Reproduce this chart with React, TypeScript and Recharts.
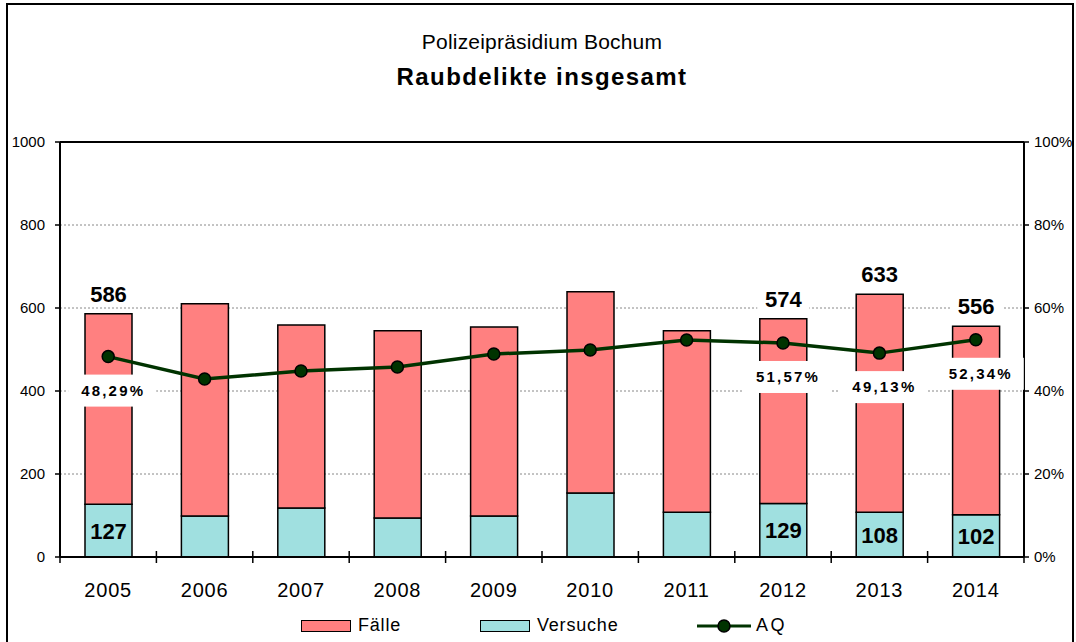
import React from 'react';
import {
  ComposedChart,
  Bar,
  Line,
  XAxis,
  YAxis,
  CartesianGrid,
  ReferenceLine,
  LabelList,
  Legend,
} from 'recharts';

const years = ['2005', '2006', '2007', '2008', '2009', '2010', '2011', '2012', '2013', '2014'];
const faelle = [586, 610, 559, 545, 554, 639, 545, 574, 633, 556];
const versuche = [127, 99, 118, 94, 99, 154, 108, 129, 108, 102];
const aq = [0.4829, 0.429, 0.448, 0.458, 0.489, 0.499, 0.523, 0.5157, 0.4913, 0.5234];
const faelleLabels = ['586', null, null, null, null, null, null, '574', '633', '556'];
const versucheLabels = ['127', null, null, null, null, null, null, '129', '108', '102'];
const aqLabels = ['48,29%', null, null, null, null, null, null, '51,57%', '49,13%', '52,34%'];
const leftTicks = [0, 200, 400, 600, 800, 1000];
const rightTicks = [0, 0.2, 0.4, 0.6, 0.8, 1];

const data = years.map((year, i) => ({
  year,
  versuche: versuche[i],
  rest: faelle[i] - versuche[i],
  aq: aq[i],
  faelleLabel: faelleLabels[i],
  versucheLabel: versucheLabels[i],
  aqLabel: aqLabels[i],
}));

const FONT = "'Liberation Sans', Arial, sans-serif";
const RED = '#FF8080';
const CYAN = '#A0E0E0';
const GREEN = '#003300';
const HALF_BAND = 48.2;

const FaelleLabel = (props: any) => {
  const { x, y, width, value } = props;
  if (value == null) return null;
  const cx = Number(x) + Number(width) / 2;
  const base = Number(y) - 12;
  return (
    <g>
      <rect x={cx - 26} y={base - 22} width={52} height={26} fill="#fff" />
      <text x={cx} y={base} textAnchor="middle" fontSize={22} fontWeight="bold" fontFamily={FONT} fill="#000">
        {value}
      </text>
    </g>
  );
};

const VersucheLabel = (props: any) => {
  const { x, y, width, height, value } = props;
  if (value == null) return null;
  const cx = Number(x) + Number(width) / 2;
  const cy = Number(y) + Number(height) / 2;
  return (
    <text x={cx} y={cy + 8} textAnchor="middle" fontSize={22} fontWeight="bold" fontFamily={FONT} fill="#000">
      {value}
    </text>
  );
};

const AqLabel = (props: any) => {
  const { x, y, value } = props;
  if (value == null) return null;
  const cx = Number(x) + 4;
  const cy = Number(y) + 34;
  return (
    <g>
      <rect x={cx - 44} y={cy - 16} width={88} height={32} fill="#fff" />
      <text x={cx + 1} y={cy + 5} textAnchor="middle" fontSize={15} fontWeight="bold" fontFamily={FONT} fill="#000" letterSpacing={2.2}>
        {value}
      </text>
    </g>
  );
};

const YearTick = (props: any) => {
  const { x, y, payload, index } = props;
  const last = index === years.length - 1;
  return (
    <g>
      <line x1={x - HALF_BAND} x2={x - HALF_BAND} y1={y - 6} y2={y + 6} stroke="#000" strokeWidth={1.5} />
      {last && <line x1={x + HALF_BAND} x2={x + HALF_BAND} y1={y - 6} y2={y + 6} stroke="#000" strokeWidth={1.5} />}
      <text x={x} y={y + 40} textAnchor="middle" fontSize={20} fontFamily={FONT} fill="#000" letterSpacing={0.8}>
        {payload.value}
      </text>
    </g>
  );
};

const renderLegend = () => (
  <div style={{ position: 'relative', width: 1076, height: 30, fontFamily: FONT, fontSize: 18, color: '#000' }}>
    <div style={{ position: 'absolute', left: 301, top: 9, width: 48, height: 10, background: RED, border: '1.5px solid #000' }} />
    <span style={{ position: 'absolute', left: 358, top: 4, letterSpacing: 0.8 }}>Fälle</span>
    <div style={{ position: 'absolute', left: 480, top: 9, width: 48, height: 10, background: CYAN, border: '1.5px solid #000' }} />
    <span style={{ position: 'absolute', left: 537, top: 4, letterSpacing: 0.8 }}>Versuche</span>
    <svg style={{ position: 'absolute', left: 695, top: 5 }} width={58} height={20}>
      <line x1={2} x2={56} y1={10} y2={10} stroke={GREEN} strokeWidth={3} />
      <circle cx={29} cy={10} r={6} fill={GREEN} stroke="#000" strokeWidth={1.5} />
    </svg>
    <span style={{ position: 'absolute', left: 756, top: 4, letterSpacing: 2.5 }}>AQ</span>
  </div>
);

export default function App() {
  return (
    <div style={{ position: 'absolute', left: 0, top: 0, width: 1076, height: 642, overflow: 'hidden', background: '#fff', fontFamily: FONT }}>
      <div style={{ position: 'absolute', left: 6, top: 3, width: 1064, height: 700, border: '2px solid #000' }} />
      <div style={{ position: 'absolute', left: 0, top: 30, width: 1084, textAlign: 'center', fontSize: 21, letterSpacing: 0.2 }}>
        Polizeipräsidium Bochum
      </div>
      <div style={{ position: 'absolute', left: 0, top: 63, width: 1084, textAlign: 'center', fontSize: 24, fontWeight: 'bold', letterSpacing: 1.4 }}>
        Raubdelikte insgesamt
      </div>
      <div style={{ position: 'absolute', left: 0, top: 0 }}>
        <ComposedChart
          width={1076}
          height={642}
          data={data}
          margin={{ top: 142, right: 0, bottom: 10, left: 8 }}
          barCategoryGap={0}
        >
          <CartesianGrid horizontal vertical={false} stroke="#888" strokeDasharray="2 2" yAxisId="left" />
          <XAxis
            dataKey="year"
            tick={<YearTick />}
            tickLine={false}
            tickSize={0}
            tickMargin={0}
            height={45}
            axisLine={{ stroke: '#000', strokeWidth: 2 }}
            interval={0}
          />
          <YAxis
            yAxisId="left"
            domain={[0, 1000]}
            ticks={leftTicks}
            width={52}
            tickSize={5}
            tickMargin={10}
            tick={{ fontSize: 15, fill: '#000', fontFamily: FONT }}
            tickLine={{ stroke: '#000', strokeWidth: 1.5 }}
            axisLine={{ stroke: '#000', strokeWidth: 2 }}
          />
          <YAxis
            yAxisId="right"
            orientation="right"
            domain={[0, 1]}
            ticks={rightTicks}
            width={52}
            tickSize={5}
            tickMargin={5}
            tickFormatter={(v: number) => `${Math.round(v * 100)}%`}
            tick={{ fontSize: 15, fill: '#000', fontFamily: FONT, textAnchor: 'start' }}
            tickLine={{ stroke: '#000', strokeWidth: 1.5 }}
            axisLine={{ stroke: '#000', strokeWidth: 2 }}
          />
          <ReferenceLine yAxisId="left" y={1000} stroke="#000" strokeWidth={2} />
          <Bar yAxisId="left" dataKey="versuche" stackId="a" fill={CYAN} stroke="#000" strokeWidth={1.5} barSize={47} isAnimationActive={false}>
            <LabelList dataKey="versucheLabel" content={<VersucheLabel />} />
          </Bar>
          <Bar yAxisId="left" dataKey="rest" stackId="a" fill={RED} stroke="#000" strokeWidth={1.5} barSize={47} isAnimationActive={false}>
            <LabelList dataKey="faelleLabel" content={<FaelleLabel />} />
          </Bar>
          <Line
            yAxisId="right"
            dataKey="aq"
            stroke={GREEN}
            strokeWidth={3.5}
            dot={{ r: 6, fill: GREEN, stroke: '#000', strokeWidth: 1.5 }}
            isAnimationActive={false}
          >
            <LabelList dataKey="aqLabel" content={<AqLabel />} />
          </Line>
          <Legend
            verticalAlign="bottom"
            content={renderLegend}
            wrapperStyle={{ left: 0, top: 611, width: 1076, height: 30 }}
          />
        </ComposedChart>
      </div>
    </div>
  );
}
